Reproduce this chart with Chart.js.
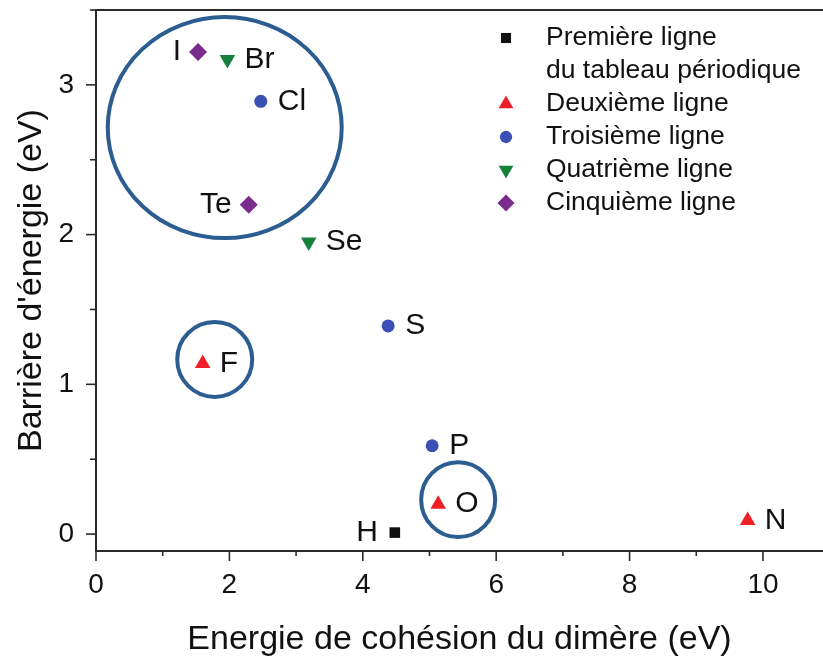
<!DOCTYPE html>
<html><head><meta charset="utf-8">
<script src="https://cdn.jsdelivr.net/npm/chart.js@4.4.0/dist/chart.umd.min.js"></script>
<style>html,body{margin:0;padding:0;background:#fff;overflow:hidden}#wrap{width:823px;height:664px}</style>
</head><body><div id="wrap"><canvas id="c" width="823" height="664"></canvas></div>
<script>
// ---- data ----
const seriesNames = [['Première ligne', 'du tableau périodique'], ['Deuxième ligne'], ['Troisième ligne'], ['Quatrième ligne'], ['Cinquième ligne']];
const row1Labels = ['H'];              const row1X = [4.48];             const row1Y = [0.01];
const row2Labels = ['F', 'O', 'N'];    const row2X = [1.60, 5.13, 9.77]; const row2Y = [1.14, 0.20, 0.09];
const row3Labels = ['Cl', 'S', 'P'];   const row3X = [2.47, 4.38, 5.04]; const row3Y = [2.89, 1.39, 0.59];
const row4Labels = ['Br', 'Se'];       const row4X = [1.97, 3.19];       const row4Y = [3.17, 1.95];
const row5Labels = ['I', 'Te'];        const row5X = [1.53, 2.29];       const row5Y = [3.22, 2.20];
// highlighted groups (ellipses, in data units)
const circleX  = [1.93, 1.78, 5.43];
const circleY  = [2.715, 1.166, 0.23];
const circleRX = [1.754, 0.562, 0.555];
const circleRY = [0.738, 0.25, 0.25];
const xTickLabels = ['0', '2', '4', '6', '8', '10'];
const yTickLabels = ['0', '1', '2', '3'];
const xTitle = 'Energie de cohésion du dimère (eV)';
const yTitle = "Barrière d'énergie (eV)";

// ---- styles ----
const FONT = "'Liberation Sans', Arial, sans-serif";
const colors = ['#111111', '#ee1f26', '#3b4fb4', '#17803d', '#7b2b8c'];
const shapes = ['rect', 'triangle', 'circle', 'triangle', 'rectRot'];
const rotations = [0, 0, 0, 180, 0];
const radii = [7.5, 9, 6.5, 9, 9];
const leftSideLabels = ['H', 'I', 'Te'];

const rows = [
  [row1Labels, row1X, row1Y], [row2Labels, row2X, row2Y], [row3Labels, row3X, row3Y],
  [row4Labels, row4X, row4Y], [row5Labels, row5X, row5Y]
];
const datasets = rows.map((r, i) => ({
  label: seriesNames[i].join(' '),
  data: r[1].map((x, k) => ({x: x, y: r[2][k], name: r[0][k]})),
  pointStyle: shapes[i], pointRotation: rotations[i], pointRadius: radii[i],
  pointHoverRadius: radii[i], backgroundColor: colors[i], borderColor: colors[i], borderWidth: 0,
  showLine: false
}));

function drawMarker(ctx, style, x, y, r, rot, color) {
  ctx.save();
  ctx.fillStyle = color;
  ctx.beginPath();
  if (style === 'rect') {
    const s = Math.SQRT1_2 * r; ctx.rect(x - s, y - s, 2 * s, 2 * s);
  } else if (style === 'circle') {
    ctx.arc(x, y, r, 0, Math.PI * 2);
  } else if (style === 'triangle') {
    let a = rot * Math.PI / 180;
    ctx.moveTo(x + Math.sin(a) * r, y - Math.cos(a) * r);
    a += 2 * Math.PI / 3; ctx.lineTo(x + Math.sin(a) * r, y - Math.cos(a) * r);
    a += 2 * Math.PI / 3; ctx.lineTo(x + Math.sin(a) * r, y - Math.cos(a) * r);
    ctx.closePath();
  } else if (style === 'rectRot') {
    ctx.moveTo(x - r, y); ctx.lineTo(x, y - r); ctx.lineTo(x + r, y); ctx.lineTo(x, y + r); ctx.closePath();
  }
  ctx.fill();
  ctx.restore();
}

const decor = {
  id: 'decor',
  beforeDatasetsDraw(chart) {
    const ctx = chart.ctx, xs = chart.scales.x, ys = chart.scales.y;
    ctx.save();
    ctx.strokeStyle = '#2c5d91';
    ctx.lineWidth = 4;
    for (let i = 0; i < circleX.length; i++) {
      const cx = xs.getPixelForValue(circleX[i]), cy = ys.getPixelForValue(circleY[i]);
      const rx = Math.abs(xs.getPixelForValue(circleX[i] + circleRX[i]) - cx);
      const ry = Math.abs(ys.getPixelForValue(circleY[i] + circleRY[i]) - cy);
      ctx.beginPath(); ctx.ellipse(cx, cy, rx, ry, 0, 0, Math.PI * 2); ctx.stroke();
    }
    ctx.restore();
  },
  afterDatasetsDraw(chart) {
    const ctx = chart.ctx, xs = chart.scales.x, ys = chart.scales.y, ca = chart.chartArea;
    ctx.save();
    // point labels
    ctx.font = '30px ' + FONT; ctx.fillStyle = '#111'; ctx.textBaseline = 'middle';
    chart.data.datasets.forEach((ds, i) => {
      const meta = chart.getDatasetMeta(i);
      meta.data.forEach((pt, k) => {
        const name = ds.data[k].name;
        if (leftSideLabels.includes(name)) { ctx.textAlign = 'right'; ctx.fillText(name, pt.x - 17, pt.y); }
        else { ctx.textAlign = 'left'; ctx.fillText(name, pt.x + 17, pt.y); }
      });
    });
    // frame top
    ctx.strokeStyle = '#2a2a2a'; ctx.lineWidth = 2;
    ctx.beginPath(); ctx.moveTo(ca.left, ca.top); ctx.lineTo(ca.right, ca.top); ctx.stroke();
    // tick marks
    ctx.lineWidth = 1.6;
    xs.ticks.forEach(t => {
      const px = xs.getPixelForValue(t.value);
      const major = Math.abs(t.value % 2) < 1e-6;
      ctx.beginPath(); ctx.moveTo(px, ca.bottom); ctx.lineTo(px, ca.bottom + (major ? 10 : 5)); ctx.stroke();
    });
    ys.ticks.forEach(t => {
      const py = ys.getPixelForValue(t.value);
      const major = Math.abs(t.value % 1) < 1e-6;
      ctx.beginPath(); ctx.moveTo(ca.left, py); ctx.lineTo(ca.left - (major ? 10 : 6), py); ctx.stroke();
    });
    // legend
    const lx = ca.left + 410, tx = ca.left + 450;
    let ly = ca.top + 28;
    const lh = 33;
    ctx.font = '26.5px ' + FONT; ctx.textAlign = 'left'; ctx.fillStyle = '#111';
    seriesNames.forEach((lines, i) => {
      drawMarker(ctx, shapes[i], lx, ly, radii[i] * 0.95, rotations[i], colors[i]);
      lines.forEach(line => { ctx.fillText(line, tx, ly); ly += lh; });
    });
    ctx.restore();
  }
};

function noPad(s) { s.paddingTop = 0; s.paddingBottom = 0; s.paddingLeft = 0; s.paddingRight = 0; }

new Chart(document.getElementById('c'), {
  type: 'scatter',
  data: {datasets: datasets},
  options: {
    responsive: false, animation: false, devicePixelRatio: 1,
    layout: {padding: {top: 10, right: 0, left: 0, bottom: 0}, autoPadding: false},
    plugins: {legend: {display: false}, tooltip: {enabled: false}},
    scales: {
      x: {
        type: 'linear', min: 0, max: 10.9,
        grid: {display: false},
        border: {display: true, color: '#2a2a2a', width: 2},
        ticks: {stepSize: 1, includeBounds: false, autoSkip: false, maxRotation: 0, padding: 9,
          color: '#111', font: {family: FONT, size: 28},
          callback: v => (Math.abs(v % 2) < 1e-6 ? xTickLabels[Math.round(v / 2)] : '')},
        title: {display: true, text: xTitle, color: '#111', font: {family: FONT, size: 34}, padding: {top: 0, bottom: 4}},
        afterFit: s => { s.height = 113; noPad(s); }
      },
      y: {
        type: 'linear', min: -0.113, max: 3.5,
        grid: {display: false},
        border: {display: true, color: '#2a2a2a', width: 2},
        ticks: {stepSize: 0.5, includeBounds: false, autoSkip: false, padding: 14,
          color: '#111', font: {family: FONT, size: 28},
          callback: v => (Math.abs(v % 1) < 1e-6 && v >= 0 ? yTickLabels[Math.round(v)] : '')},
        title: {display: true, text: yTitle, color: '#111', font: {family: FONT, size: 34}, padding: {top: 11, bottom: 0}},
        afterFit: s => { s.width = 96; noPad(s); }
      }
    }
  },
  plugins: [decor]
});
</script>
</body></html>
